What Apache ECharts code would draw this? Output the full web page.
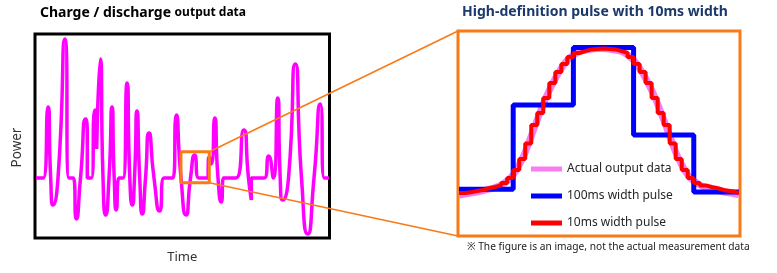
<!DOCTYPE html>
<html>
<head>
<meta charset="utf-8">
<script src="https://cdn.jsdelivr.net/npm/echarts@6/dist/echarts.min.js"></script>
<style>
html,body{margin:0;padding:0;background:#fff;}
#c{width:777px;height:273px;}
</style>
</head>
<body>
<div id="c"></div>
<script>
// ---- Left chart: charge / discharge output (time, power) ----
const waveT = [0,7.3,12,14.7,17,22,29,33,37.3,40.3,44.5,49.7,51.3,51.3,55.3,59,60.7,60.7,64.3,67,69.7,73,76,78.2,80.3,83,87,91,93.8,96.3,98.5,101,103.7,106.3,109.5,113,118,123.7,128,137,140.3,145,150,154.5,158.7,162.7,172,172.3,173.3,175.3,178.7,182,185.3,187.7,200,207.7,212.5,215.3,215.3,228.3,232.7,237.3,241.7,244.2,246.7,252.5,259.3,265.5,271.7,278,284.3,288.3,293];
const waveP = [0,0,71,0,-27,0,139,0,0,-41,0,59,43,0,0,68,61,29,119,0,-37,0,71,0,-32,0,0,95,0,-27,0,67,0,-36,0,45,0,-33,0,0,63,0,-37,0,23,0,0,16,21,14,60,0,-24,0,0,48,0,-22,0,0,22,0,80,0,-22,0,114,0,-56,0,74,0,0];
const zoomBoxT = [145, 173.3];
const zoomBoxP = [-4.7, 26.3];

// ---- Right chart: pulse detail (ms, relative power) ----
const actualT = [0,10,20,30,40,50,60,70,80,90,100,110,120,130,140,150,160,170,180,190,200,210,220,230,240,250,260,270,280,290,300,310,320,330,340,350,360,370,380,390,400,410,420,430,440,450,460,465];
const actualV = [1.0,1.7,2.4,3.0,4.0,5.0,6.0,7.8,10.5,14.6,21.4,30,41,52,62.7,72,80,87,92.5,96,98.3,99.3,100,100.3,100.3,100,99.3,98.3,96,92.5,87,80,72,62.7,52,41,30,21.4,14.6,10.5,7.8,6.0,5.0,4.0,3.0,2.4,1.7,1.2];
const pulse100T = [0,90,190,290,390,465];
const pulse100V = [4.9,62,101,41.7,3.1,3.1];
const pulse10T = [0,10,20,30,40,50,60,70,80,90,100,110,120,130,140,150,160,170,180,190,200,210,220,230,240,250,260,270,280,290,300,310,320,330,340,350,360,370,380,390,400,410,420,430,440,450,460,465];
const pulse10V = [2.4,2.9,3.7,4.4,5.6,6.4,7.5,9.2,12.5,18,25.4,36,48.5,56.6,66.8,77,84.4,89.8,94.6,97.3,98.6,99.7,100,100.3,100,99.7,98.6,97.3,94.6,89.8,84.4,77,66.8,56.6,48.5,36,25.4,18,12.5,9.2,7.5,6.4,5.6,4.4,3.7,2.9,2.4,2.4];

const seriesNames = ['Actual output data','100ms width pulse','10ms width pulse'];
const leftTitle = ['Charge / discharge ', 'output data'];
const rightTitle = 'High-definition pulse with 10ms width';
const footnote = '※ The figure is an image, not the actual measurement data';
const axisNames = ['Time', 'Power'];

const ORANGE = '#F97A16';
const FONT = 'Noto Sans';
const zip = (a, b) => a.map((v, i) => [v, b[i]]);

const chart = echarts.init(document.getElementById('c'), null, {renderer: 'canvas'});
const hiddenAxis = {axisLine:{show:false}, axisTick:{show:false}, axisLabel:{show:false}, splitLine:{show:false}};

chart.setOption({
  animation: false,
  textStyle: {fontFamily: FONT},
  title: [
    {text: '{a|' + leftTitle[0] + '}{b|' + leftTitle[1] + '}', left: 40, top: 6, padding: 0,
     textStyle: {rich: {a: {fontSize: 14, fontWeight: 'bold', color: '#000', fontFamily: FONT},
                        b: {fontSize: 12, fontWeight: 'bold', color: '#000', fontFamily: FONT}}}},
    {text: rightTitle, left: 595, textAlign: 'center', top: 5, padding: 0,
     textStyle: {fontSize: 14, fontWeight: 'bold', color: '#1B3A6B', fontFamily: FONT}},
    {text: footnote, left: 467, top: 242, padding: 0,
     textStyle: {fontSize: 10.2, fontWeight: 'normal', color: '#222', fontFamily: FONT}}
  ],
  legend: {
    data: seriesNames, orient: 'vertical', left: 531, top: 161, padding: 0,
    icon: 'rect', itemWidth: 31, itemHeight: 5, itemGap: 11,
    textStyle: {fontSize: 12, color: '#262626', fontFamily: FONT, lineHeight: 16}
  },
  grid: [
    {left: 35, top: 34, width: 294.5, height: 204, show: true, borderColor: '#000', borderWidth: 3, backgroundColor: '#fff'},
    {left: 458, top: 31, width: 282, height: 205, show: true, borderColor: ORANGE, borderWidth: 3, backgroundColor: '#fff'}
  ],
  xAxis: [
    Object.assign({type: 'value', gridIndex: 0, min: -1, max: 293.5, name: axisNames[0], nameLocation: 'middle', nameGap: 13,
      nameTextStyle: {fontSize: 13, color: '#333', fontFamily: FONT}}, hiddenAxis),
    Object.assign({type: 'value', gridIndex: 1, min: -1.7, max: 466.8}, hiddenAxis)
  ],
  yAxis: [
    Object.assign({type: 'value', gridIndex: 0, min: -60, max: 144}, hiddenAxis),
    Object.assign({type: 'value', gridIndex: 1, min: -26.8, max: 112.2}, hiddenAxis)
  ],
  series: [
    {type: 'line', xAxisIndex: 0, yAxisIndex: 0, data: zip(waveT, waveP), smooth: 0.7, showSymbol: false,
     lineStyle: {color: '#FF00FF', width: 3.5}, itemStyle: {color: '#FF00FF'}, z: 2},
    {type: 'line', xAxisIndex: 0, yAxisIndex: 0, showSymbol: false, z: 3,
     data: [[zoomBoxT[0], zoomBoxP[1]], [zoomBoxT[1], zoomBoxP[1]], [zoomBoxT[1], zoomBoxP[0]], [zoomBoxT[0], zoomBoxP[0]], [zoomBoxT[0], zoomBoxP[1]]],
     lineStyle: {color: ORANGE, width: 3}, itemStyle: {color: ORANGE}},
    {name: seriesNames[0], type: 'line', xAxisIndex: 1, yAxisIndex: 1, data: zip(actualT, actualV), smooth: 0.4, showSymbol: false,
     lineStyle: {color: '#F77EF0', width: 7}, itemStyle: {color: '#F77EF0'}, z: 2},
    {name: seriesNames[1], type: 'line', xAxisIndex: 1, yAxisIndex: 1, data: zip(pulse100T, pulse100V), step: 'end', showSymbol: false,
     lineStyle: {color: '#0000FF', width: 5}, itemStyle: {color: '#0000FF'}, z: 3},
    {name: seriesNames[2], type: 'line', xAxisIndex: 1, yAxisIndex: 1, data: zip(pulse10T, pulse10V), step: 'end', showSymbol: false,
     lineStyle: {color: '#FF0000', width: 4}, itemStyle: {color: '#FF0000'}, z: 4}
  ]
});

// Connector lines from the small zoom box to the detail frame, and the Power label
const a = chart.convertToPixel({gridIndex: 0}, [zoomBoxT[1], zoomBoxP[1]]);
const b = chart.convertToPixel({gridIndex: 0}, [zoomBoxT[1], zoomBoxP[0]]);
const c = chart.convertToPixel({gridIndex: 1}, [-1.7, 112.2]);
const d = chart.convertToPixel({gridIndex: 1}, [-1.7, -26.8]);
chart.setOption({
  graphic: [
    {type: 'line', z: 100, shape: {x1: a[0], y1: a[1], x2: c[0], y2: c[1]}, style: {stroke: ORANGE, lineWidth: 1.6}},
    {type: 'line', z: 100, shape: {x1: b[0], y1: b[1], x2: d[0], y2: d[1]}, style: {stroke: ORANGE, lineWidth: 1.6}},
    {type: 'text', x: 17, y: 147.5, rotation: Math.PI / 2,
     style: {text: axisNames[1], font: '13.5px "Noto Sans"', fill: '#333', align: 'center', verticalAlign: 'middle'}}
  ]
});
</script>
</body>
</html>
